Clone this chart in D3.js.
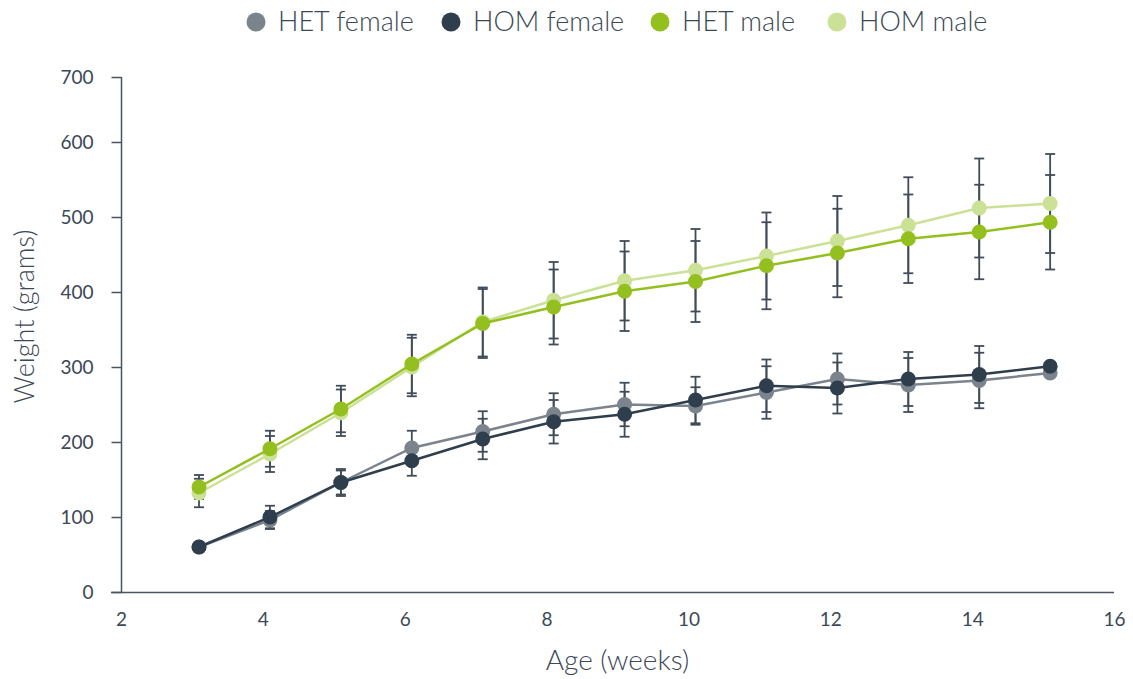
<!DOCTYPE html>
<html>
<head>
<meta charset="utf-8">
<script src="https://cdn.jsdelivr.net/npm/d3@7"></script>
<style>
  html, body { margin: 0; padding: 0; background: #ffffff; }
  svg { display: block; font-family: Lato, "Open Sans", sans-serif; font-weight: 300; }
</style>
</head>
<body>
<svg id="chart" width="1133" height="679"></svg>
<script>
// ---- data ----
const weeks = [3.1, 4.1, 5.1, 6.1, 7.1, 8.1, 9.1, 10.1, 11.1, 12.1, 13.1, 14.1, 15.1];

const hetFemale    = [60, 96, 146, 192, 214, 237, 250, 248, 266, 284, 276, 282, 292];
const hetFemaleErr = [4, 12, 18, 23, 27, 28, 29, 25, 35, 34, 36, 37, 5];
const homFemale    = [60, 100, 146, 175, 204, 227, 237, 256, 275, 272, 284, 290, 301];
const homFemaleErr = [4, 15, 16, 20, 27, 29, 30, 31, 35, 34, 36, 38, 5];
const hetMale      = [140, 191, 244, 304, 358, 380, 401, 414, 435, 452, 471, 480, 493];
const hetMaleErr   = [16, 24, 31, 39, 46, 50, 53, 54, 58, 59, 59, 63, 63];
const homMale      = [132, 184, 239, 300, 360, 389, 415, 429, 448, 468, 489, 512, 518];
const homMaleErr   = [19, 24, 31, 39, 46, 51, 53, 55, 58, 60, 64, 66, 66];

const seriesNames = ["HET female", "HOM female", "HET male", "HOM male"];
const yTicks = [0, 100, 200, 300, 400, 500, 600, 700];
const xTicks = [2, 4, 6, 8, 10, 12, 14, 16];
const xTitle = "Age (weeks)";
const yTitle = "Weight (grams)";

// ---- styling ----
const colors = {
  "HET female": "#7b838c",
  "HOM female": "#2f3e4c",
  "HET male":   "#93c01f",
  "HOM male":   "#cbe195"
};
const textColor = "#3b4856";
const axisColor = "#4a5561";
const errColor  = "#404c59";

const series = [
  { name: "HOM male",   values: homMale,   err: homMaleErr },
  { name: "HET male",   values: hetMale,   err: hetMaleErr },
  { name: "HET female", values: hetFemale, err: hetFemaleErr },
  { name: "HOM female", values: homFemale, err: homFemaleErr }
];

const svg = d3.select("#chart");

const x = d3.scaleLinear().domain([2, 16]).range([121, 1114]);
const y = d3.scaleLinear().domain([0, 600, 700]).range([592, 142, 77]);

// y axis
const yAxis = svg.append("g").attr("transform", "translate(121.5,0)")
  .call(d3.axisLeft(y).tickValues(yTicks).tickSize(10).tickPadding(18).tickFormat(d3.format("d")));
yAxis.select(".domain").attr("stroke", axisColor).attr("stroke-width", 1.5)
  .attr("d", `M0,${y(700)}V${y(0)}`);
yAxis.selectAll(".tick line").attr("stroke", axisColor).attr("stroke-width", 1.5);
yAxis.selectAll(".tick text").attr("fill", textColor).attr("font-size", 19)
  .attr("font-family", "Lato, sans-serif").attr("font-weight", 400);

// x axis
const xAxis = svg.append("g").attr("transform", "translate(0,592.5)")
  .call(d3.axisBottom(x).tickValues(xTicks).tickSize(0).tickPadding(20).tickFormat(d3.format("d")));
xAxis.select(".domain").attr("stroke", axisColor).attr("stroke-width", 1.5)
  .attr("d", `M${x(2) - 10},0H${x(16)}`);
xAxis.selectAll(".tick text").attr("fill", textColor).attr("font-size", 19)
  .attr("font-family", "Lato, sans-serif").attr("font-weight", 400);

// axis titles
svg.append("text").attr("x", (x(2) + x(16)) / 2).attr("y", 670)
  .attr("text-anchor", "middle").attr("fill", textColor).attr("font-size", 28)
  .text(xTitle);
svg.append("text").attr("transform", `translate(34,${(y(0) + y(700)) / 2 - 18}) rotate(-90)`)
  .attr("text-anchor", "middle").attr("fill", textColor).attr("font-size", 27)
  .text(yTitle);

// error bars (under everything)
const capW = 5;
series.forEach(s => {
  const g = svg.append("g").attr("stroke", errColor).attr("stroke-width", 1.8).attr("fill", "none");
  weeks.forEach((w, i) => {
    const cx = x(w), top = y(s.values[i] + s.err[i]), bot = y(s.values[i] - s.err[i]);
    g.append("line").attr("x1", cx).attr("x2", cx).attr("y1", top).attr("y2", bot);
    g.append("line").attr("x1", cx - capW).attr("x2", cx + capW).attr("y1", top).attr("y2", top);
    g.append("line").attr("x1", cx - capW).attr("x2", cx + capW).attr("y1", bot).attr("y2", bot);
  });
});

// lines + markers
const line = d3.line().x((d, i) => x(weeks[i])).y(d => y(d));
series.forEach(s => {
  svg.append("path").datum(s.values).attr("d", line)
    .attr("fill", "none").attr("stroke", colors[s.name]).attr("stroke-width", 2.5);
  svg.append("g").selectAll("circle").data(s.values).join("circle")
    .attr("cx", (d, i) => x(weeks[i])).attr("cy", d => y(d)).attr("r", 7.5)
    .attr("fill", colors[s.name]);
});

// legend
const legendX = [256, 451, 660, 837];
const legend = svg.append("g");
seriesNames.forEach((n, i) => {
  legend.append("circle").attr("cx", legendX[i]).attr("cy", 22).attr("r", 9.5).attr("fill", colors[n]);
  legend.append("text").attr("x", legendX[i] + 22).attr("y", 31).attr("fill", textColor)
    .attr("font-size", 27).text(n);
});
</script>
</body>
</html>
